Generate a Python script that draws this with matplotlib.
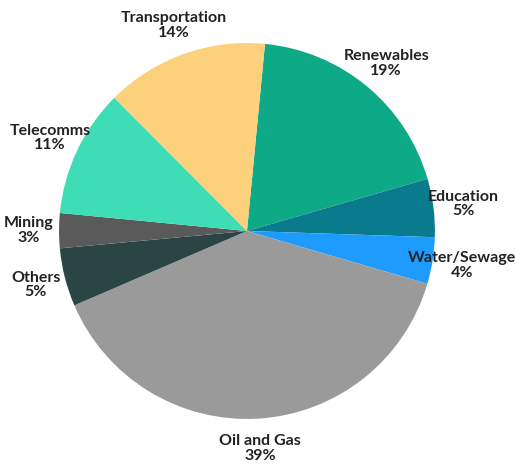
import matplotlib.pyplot as plt

# sectors, clockwise from the top
sectors = ['Renewables', 'Education', 'Water/Sewage', 'Oil and Gas',
           'Others', 'Mining', 'Telecomms', 'Transportation']
shares = [19, 5, 4, 39, 5, 3, 11, 14]
colors = ['#0eaa88', '#0a7b8c', '#1e9bff', '#9a9a9a',
          '#2b4545', '#5a5a5a', '#3fddb5', '#fdd07c']

plt.rcParams['font.family'] = ['Lato', 'DejaVu Sans']

fig = plt.figure(figsize=(5.15, 4.68), dpi=100)
ax = fig.add_axes([0, 0, 1, 1])

labels = [s + '\n' + str(v) + '%' for s, v in zip(sectors, shares)]
wedges, texts = ax.pie(shares, labels=labels, colors=colors, startangle=84.5,
                       counterclock=False, labeldistance=1.16,
                       textprops={'fontsize': 11.5, 'fontweight': 'bold', 'color': '#222222'})
for t in texts:
    t.set_ha('center')
    t.set_va('center')
    t.set_multialignment('center')
    t.set_linespacing(1.05)

ax.set_xlim(-1.314, 1.426)
ax.set_ylim(-1.261, 1.229)
ax.axis('off')

fig.savefig('out.png', dpi=100)
